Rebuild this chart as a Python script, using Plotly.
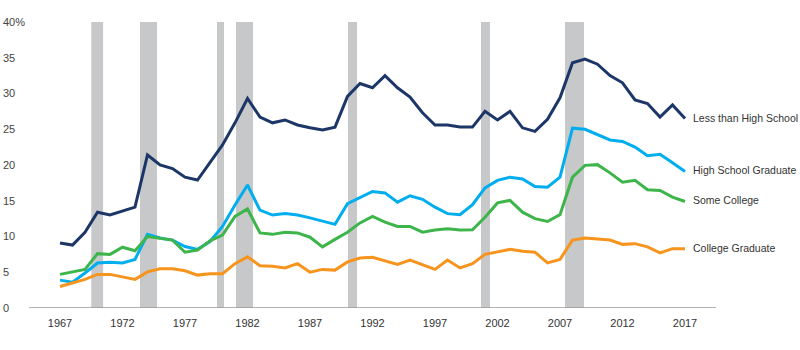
import plotly.graph_objects as go

years = list(range(1967, 2018))

less_than_hs = [9.1, 8.8, 10.6, 13.4, 13.0, 13.5, 14.1, 21.4, 20.0, 19.5,
                18.3, 17.9, 20.3, 22.8, 25.9, 29.3, 26.7, 25.9, 26.3, 25.6,
                25.2, 24.9, 25.3, 29.6, 31.4, 30.8, 32.5, 30.8, 29.5, 27.3,
                25.6, 25.6, 25.3, 25.3, 27.5, 26.3, 27.5, 25.2, 24.7, 26.4,
                29.4, 34.3, 34.8, 34.1, 32.5, 31.5, 29.1, 28.6, 26.7, 28.4,
                26.5]

hs_graduate = [3.9, 3.6, 4.9, 6.3, 6.4, 6.3, 6.8, 10.3, 9.8, 9.5,
               8.6, 8.2, 9.3, 11.4, 14.4, 17.2, 13.7, 13.0, 13.2, 13.0,
               12.6, 12.1, 11.7, 14.6, 15.5, 16.3, 16.1, 14.8, 15.7, 15.2,
               14.1, 13.2, 13.05, 14.45, 16.8, 17.85, 18.3, 18.05, 17.0, 16.9,
               18.3, 25.15, 25.0, 24.3, 23.5, 23.3, 22.5, 21.3, 21.5, 20.3,
               19.1]

some_college = [4.7, 5.0, 5.4, 7.6, 7.5, 8.5, 8.0, 10.0, 9.7, 9.5,
                7.8, 8.1, 9.4, 10.2, 12.8, 13.85, 10.5, 10.3, 10.6, 10.5,
                9.9, 8.55, 9.6, 10.6, 11.9, 12.8, 12.0, 11.4, 11.4, 10.6,
                10.9, 11.1, 10.9, 10.95, 12.7, 14.7, 15.05, 13.4, 12.5, 12.1,
                13.05, 18.3, 19.95, 20.05, 18.9, 17.6, 17.85, 16.55, 16.45, 15.5,
                14.9]

college_graduate = [3.0, 3.5, 4.0, 4.7, 4.7, 4.35, 4.0, 5.05, 5.5, 5.5,
                    5.2, 4.6, 4.8, 4.8, 6.2, 7.15, 5.9, 5.85, 5.6, 6.2,
                    5.0, 5.4, 5.3, 6.45, 7.0, 7.1, 6.55, 6.1, 6.7, 6.1,
                    5.4, 6.7, 5.6, 6.2, 7.5, 7.85, 8.2, 7.95, 7.8, 6.3,
                    6.8, 9.5, 9.8, 9.65, 9.5, 8.9, 9.0, 8.55, 7.7, 8.3,
                    8.3]

series_names = ["Less than High School", "High School Graduate", "Some College", "College Graduate"]
series_values = [less_than_hs, hs_graduate, some_college, college_graduate]
series_colors = ["#1c3767", "#00aeef", "#3db54a", "#f7941d"]

recession_start = [1969.5, 1973.4, 1979.56, 1981.08, 1990.04, 2000.68, 2007.4]
recession_end = [1970.45, 1974.76, 1980.12, 1982.44, 1990.76, 2001.4, 2008.92]

x_tick_vals = [1967, 1972, 1977, 1982, 1987, 1992, 1997, 2002, 2007, 2012, 2017]
y_tick_vals = [0, 5, 10, 15, 20, 25, 30, 35, 40]
y_tick_text = ["0", "5", "10", "15", "20", "25", "30", "35", "40%"]

FONT = "Liberation Sans, Arial, sans-serif"

fig = go.Figure()

for name, vals, col in zip(series_names, series_values, series_colors):
    fig.add_trace(go.Scatter(x=years, y=vals, mode="lines", name=name,
                             line=dict(color=col, width=3), showlegend=False,
                             hoverinfo="skip"))
    fig.add_annotation(x=years[-1], y=vals[-1], text=name, showarrow=False,
                       xanchor="left", yanchor="middle", xshift=6, yshift=1,
                       font=dict(family=FONT, size=10.5, color="#333333"))

for s, e in zip(recession_start, recession_end):
    fig.add_shape(type="rect", xref="x", yref="y", x0=s, x1=e, y0=0, y1=40,
                  fillcolor="#c7c8ca", line=dict(width=0), layer="below")

fig.add_shape(type="line", xref="x", yref="y", x0=1964.52, x1=2019.48, y0=0, y1=0,
              line=dict(color="#9a9a9a", width=1.5), layer="below")

fig.update_layout(
    width=800, height=350,
    margin=dict(l=0, r=0, t=22, b=42),
    plot_bgcolor="white", paper_bgcolor="white",
    font=dict(family=FONT, size=11, color="#333333"),
    xaxis=dict(range=[1962.2, 2026.2], tickvals=x_tick_vals, showgrid=False,
               zeroline=False, showline=False, ticks="", fixedrange=True,
               ticklabelstandoff=7),
    yaxis=dict(range=[0, 40], tickvals=y_tick_vals, ticktext=y_tick_text,
               ticklabelposition="inside", ticklabeloverflow="allow",
               showgrid=False, zeroline=False,
               showline=False, ticks="", fixedrange=True),
)

fig.write_html("out.html")
